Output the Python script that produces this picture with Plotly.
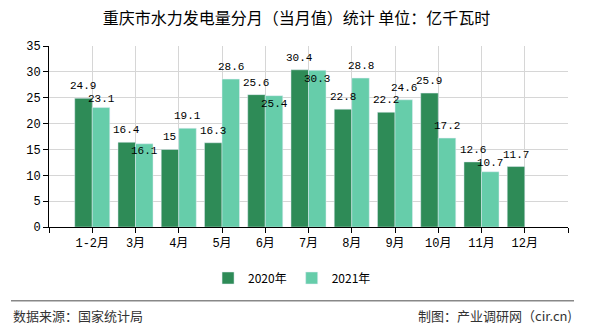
import plotly.graph_objects as go

categories = ["1-2月", "3月", "4月", "5月", "6月", "7月", "8月", "9月", "10月", "11月", "12月"]
values_2020 = [24.9, 16.4, 15, 16.3, 25.6, 30.4, 22.8, 22.2, 25.9, 12.6, 11.7]
values_2021 = [23.1, 16.1, 19.1, 28.6, 25.4, 30.3, 28.8, 24.6, 17.2, 10.7, None]
series_names = ["2020年", "2021年"]
y_ticks = [0, 5, 10, 15, 20, 25, 30, 35]

FONT = "Liberation Mono, Noto Sans CJK SC, monospace"
CJK = "Noto Sans CJK SC, sans-serif"
positions = list(range(len(categories)))

ML, MR, MT, MB = 49, 22, 46, 101
W, H = 590, 330
plot_h = H - MT - MB
y_max = 35
bargap = 0.19
bar_w = (1 - bargap) / 2

fig = go.Figure()
for name, vals, color in [(series_names[0], values_2020, "#2E8B57"),
                          (series_names[1], values_2021, "#66CDAA")]:
    fig.add_trace(go.Bar(x=positions, y=vals, name=name, marker_color=color))

# value labels with simple vertical collision avoidance (like the original)
scale = plot_h / y_max
LBL_GAP = 12
for i, (v1, v2) in enumerate(zip(values_2020, values_2021)):
    h1 = v1 * scale + LBL_GAP
    fig.add_annotation(x=i - bar_w / 2, y=v1, xref="x", yref="y", text=f"{v1:g}",
                       showarrow=False, yanchor="middle", yshift=LBL_GAP,
                       font=dict(family=FONT, size=11, color="#000"))
    if v2 is None:
        continue
    h2 = v2 * scale + LBL_GAP
    if abs(h1 - h2) < 12:
        h2 = h1 - (21 if abs(h1 - h2) < 6 else 13)
    fig.add_annotation(x=i + bar_w / 2, y=v2, xref="x", yref="y", text=f"{v2:g}",
                       showarrow=False, yanchor="middle", yshift=h2 - v2 * scale,
                       font=dict(family=FONT, size=11, color="#000"))

fig.update_layout(
    width=W, height=H,
    margin=dict(l=ML, r=MR, t=MT, b=MB),
    paper_bgcolor="white", plot_bgcolor="white",
    barmode="group", bargap=bargap, bargroupgap=0,
    title=dict(text="重庆市水力发电量分月（当月值）统计 单位：亿千瓦时",
               x=0.5025, xref="container", y=1 - 18 / 330, yref="container",
               xanchor="center", yanchor="middle",
               font=dict(family=CJK, size=16, color="#000")),
    font=dict(family=FONT, size=12, color="#000"),
    showlegend=True,
    legend=dict(orientation="h", x=0.495, xref="container", xanchor="center",
                y=1 - 278 / 330, yref="container", yanchor="middle",
                font=dict(family=CJK, size=12, color="#000"),
                itemwidth=30, traceorder="normal"),
    xaxis=dict(range=[-1, len(categories)], tickmode="array",
               tickvals=[-1] + positions + [len(categories)],
               ticktext=[""] + categories + [""],
               showgrid=True, gridcolor="#d6d6d6", gridwidth=1,
               showline=True, linecolor="#000", linewidth=1,
               ticks="outside", ticklen=5, tickcolor="#000",
               tickfont=dict(family=FONT, size=12, color="#000"),
               zeroline=False, fixedrange=True),
    yaxis=dict(range=[0, y_max + 0.0001], tickmode="array", tickvals=y_ticks,
               showgrid=True, gridcolor="#d6d6d6", gridwidth=1,
               showline=True, linecolor="#000", linewidth=1,
               ticks="outside", ticklen=5, tickcolor="#000",
               tickfont=dict(family=FONT, size=12, color="#000"),
               zeroline=False, fixedrange=True),
)

ph = plot_h
pw = W - ML - MR
base = H - MB
fig.add_shape(type="line", xref="paper", yref="paper",
              x0=(11 - ML) / pw, x1=(574 - ML) / pw,
              y0=(base - 303.5) / ph, y1=(base - 303.5) / ph,
              line=dict(color="#888", width=1.5))
fig.add_annotation(text="数据来源：国家统计局", xref="paper", yref="paper",
                   x=(11 - ML) / pw, y=(base - 318) / ph, xanchor="left", yanchor="middle",
                   showarrow=False, font=dict(family=CJK, size=13, color="#333"))
fig.add_annotation(text="制图：产业调研网（cir.cn)", xref="paper", yref="paper",
                   x=(574 - ML) / pw, y=(base - 318) / ph, xanchor="right", yanchor="middle",
                   showarrow=False, font=dict(family=CJK, size=13, color="#333"))

fig.write_html("out.html")
